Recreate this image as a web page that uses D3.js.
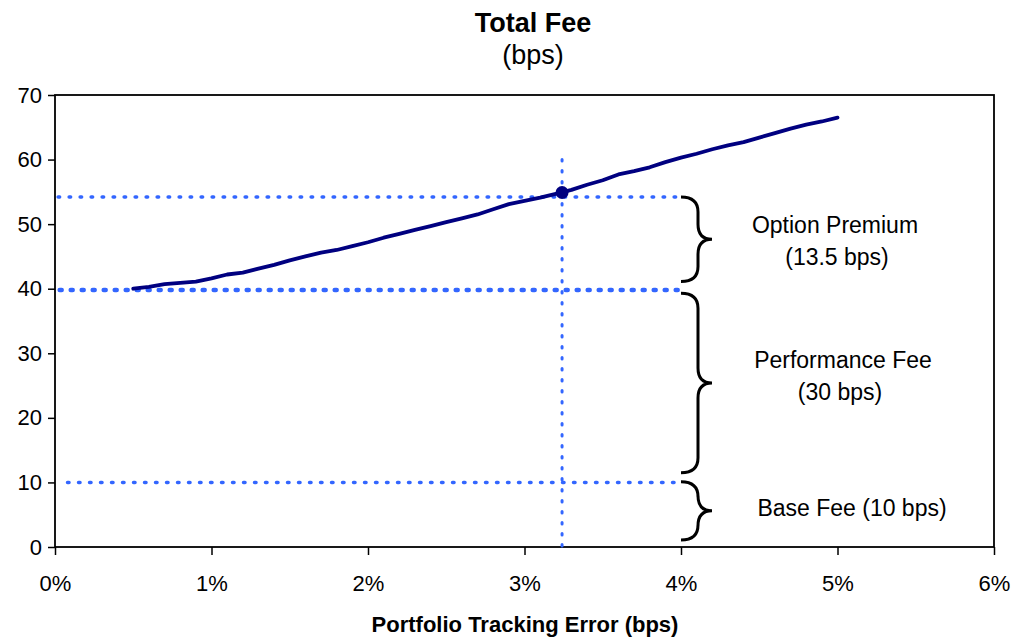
<!DOCTYPE html>
<html>
<head>
<meta charset="utf-8">
<script src="https://cdn.jsdelivr.net/npm/d3@7"></script>
<style>
  body { margin: 0; background: #fff; }
  text { font-family: "Liberation Sans", Arial, sans-serif; fill: #000; }
</style>
</head>
<body>
<div class="canvas"></div>
<script>
// DATA
const trackingError = [0.5,0.6,0.7,0.8,0.9,1.0,1.1,1.2,1.3,1.4,1.5,1.6,1.7,1.8,1.9,2.0,2.1,2.2,2.3,2.4,2.5,2.6,2.7,2.8,2.9,3.0,3.1,3.2,3.3,3.4,3.5,3.6,3.7,3.8,3.9,4.0,4.1,4.2,4.3,4.4,4.5,4.6,4.7,4.8,4.9,5.0];
const totalFee = [40.0,40.3,40.7,40.9,41.1,41.6,42.2,42.5,43.1,43.7,44.4,45.0,45.6,46.0,46.6,47.2,47.9,48.5,49.1,49.7,50.3,50.9,51.5,52.3,53.1,53.6,54.1,54.7,55.3,56.1,56.8,57.7,58.2,58.8,59.6,60.3,60.9,61.6,62.2,62.7,63.4,64.1,64.8,65.4,65.9,66.5];

const xTicks = [0,1,2,3,4,5,6];
const yTicks = [0,10,20,30,40,50,60,70];

// current portfolio point
const current = {te: 3.24, fee: 54.9};

// guide lines: y value, start / end in %
const guideLevels = [54.2, 39.8, 10];
const guideStarts = [0.02, 0.03, 0.08];
const guideEnd = 4;

// fee components: brace from top to bottom (bps)
const braceTops = [54.2, 39.3, 10.1];
const braceBottoms = [41.1, 11.5, 1.1];
const labelLines = ["Option Premium", "(13.5 bps)", "Performance Fee", "(30 bps)", "Base Fee (10 bps)"];
const labelLevels = [49.9, 44.9, 29.0, 24.0, 6.0];   // bps, text centre
const labelPos = [835, 837, 843, 840, 852];          // px, text centre

// Dimensions
const margins = {top:95, right:28, bottom:92, left:55};
const W = 1022, H = 639;
const width = W - margins.left - margins.right;
const height = H - margins.top - margins.bottom;

const svg = d3.select(".canvas").append("svg")
  .attr("width", W).attr("height", H);

const canvas = svg.append("g")
  .attr("transform", `translate(${margins.left},${margins.top})`);

// SCALES
const x = d3.scaleLinear().domain([0,6]).range([0,width]);
const y = d3.scaleLinear().domain([0,70]).range([height,0]);

// AXES
const xAxis = canvas.append("g")
  .attr("transform", `translate(0,${height})`)
  .call(d3.axisBottom(x).tickValues(xTicks).tickFormat(d => d + "%").tickSize(8).tickPadding(20));

const yAxis = canvas.append("g")
  .call(d3.axisLeft(y).tickValues(yTicks).tickSize(7).tickPadding(6));

[xAxis, yAxis].forEach(a => {
  a.selectAll("text").style("font-size", "22px").style("font-family", "Liberation Sans, Arial, sans-serif");
  a.selectAll("line").attr("stroke", "#000").attr("stroke-width", 1.5);
  a.select(".domain").remove();
});

// frame
canvas.append("rect")
  .attr("width", width).attr("height", height)
  .attr("fill", "none").attr("stroke", "#000").attr("stroke-width", 1.8);

// dotted guides
const dotColor = "#3366ff";
guideLevels.forEach((v, i) => {
  canvas.append("line")
    .attr("x1", x(guideStarts[i])).attr("x2", x(guideEnd))
    .attr("y1", y(v)).attr("y2", y(v))
    .attr("stroke", dotColor)
    .attr("stroke-width", i === 1 ? 4.5 : 3.5)
    .attr("stroke-linecap", "round")
    .attr("stroke-dasharray", i === 1 ? "2,9" : "1.5,9.5");
});

canvas.append("line")
  .attr("x1", x(current.te)).attr("x2", x(current.te))
  .attr("y1", y(60)).attr("y2", y(0))
  .attr("stroke", dotColor).attr("stroke-width", 3)
  .attr("stroke-linecap", "round")
  .attr("stroke-dasharray", "1.5,9.5");

// fee line
const line = d3.line()
  .x((d, i) => x(trackingError[i]))
  .y(d => y(d));

canvas.append("path")
  .datum(totalFee)
  .attr("d", line)
  .attr("fill", "none")
  .attr("stroke", "#000080")
  .attr("stroke-width", 3.8)
  .attr("stroke-linejoin", "round")
  .attr("stroke-linecap", "round");

canvas.append("circle")
  .attr("cx", x(current.te)).attr("cy", y(current.fee))
  .attr("r", 6.5).attr("fill", "#000080");

// braces
const brace = (x0, y0, y1) => {
  const xv = x0 + 17, xt = x0 + 31, r = 15;
  const ym = (y0 + y1) / 2;
  return `M${x0},${y0} Q${xv},${y0} ${xv},${y0 + r} L${xv},${ym - r} Q${xv},${ym} ${xt},${ym}` +
    ` Q${xv},${ym} ${xv},${ym + r} L${xv},${y1 - r} Q${xv},${y1} ${x0},${y1}`;
};

braceTops.forEach((t, i) => {
  canvas.append("path")
    .attr("d", brace(x(guideEnd), y(t), y(braceBottoms[i])))
    .attr("fill", "none").attr("stroke", "#000").attr("stroke-width", 3);
});

labelLines.forEach((s, i) => {
  canvas.append("text")
    .attr("x", labelPos[i] - margins.left)
    .attr("y", y(labelLevels[i]))
    .attr("dy", "0.35em")
    .attr("text-anchor", "middle")
    .style("font-size", "23px")
    .text(s);
});

// titles
svg.append("text")
  .attr("x", 533).attr("y", 32)
  .attr("text-anchor", "middle")
  .style("font-size", "27px").style("font-weight", "bold")
  .text("Total Fee");

svg.append("text")
  .attr("x", 533).attr("y", 64)
  .attr("text-anchor", "middle")
  .style("font-size", "27px")
  .text("(bps)");

svg.append("text")
  .attr("x", 525).attr("y", 632)
  .attr("text-anchor", "middle")
  .style("font-size", "22px").style("font-weight", "bold")
  .text("Portfolio Tracking Error (bps)");
</script>
</body>
</html>
